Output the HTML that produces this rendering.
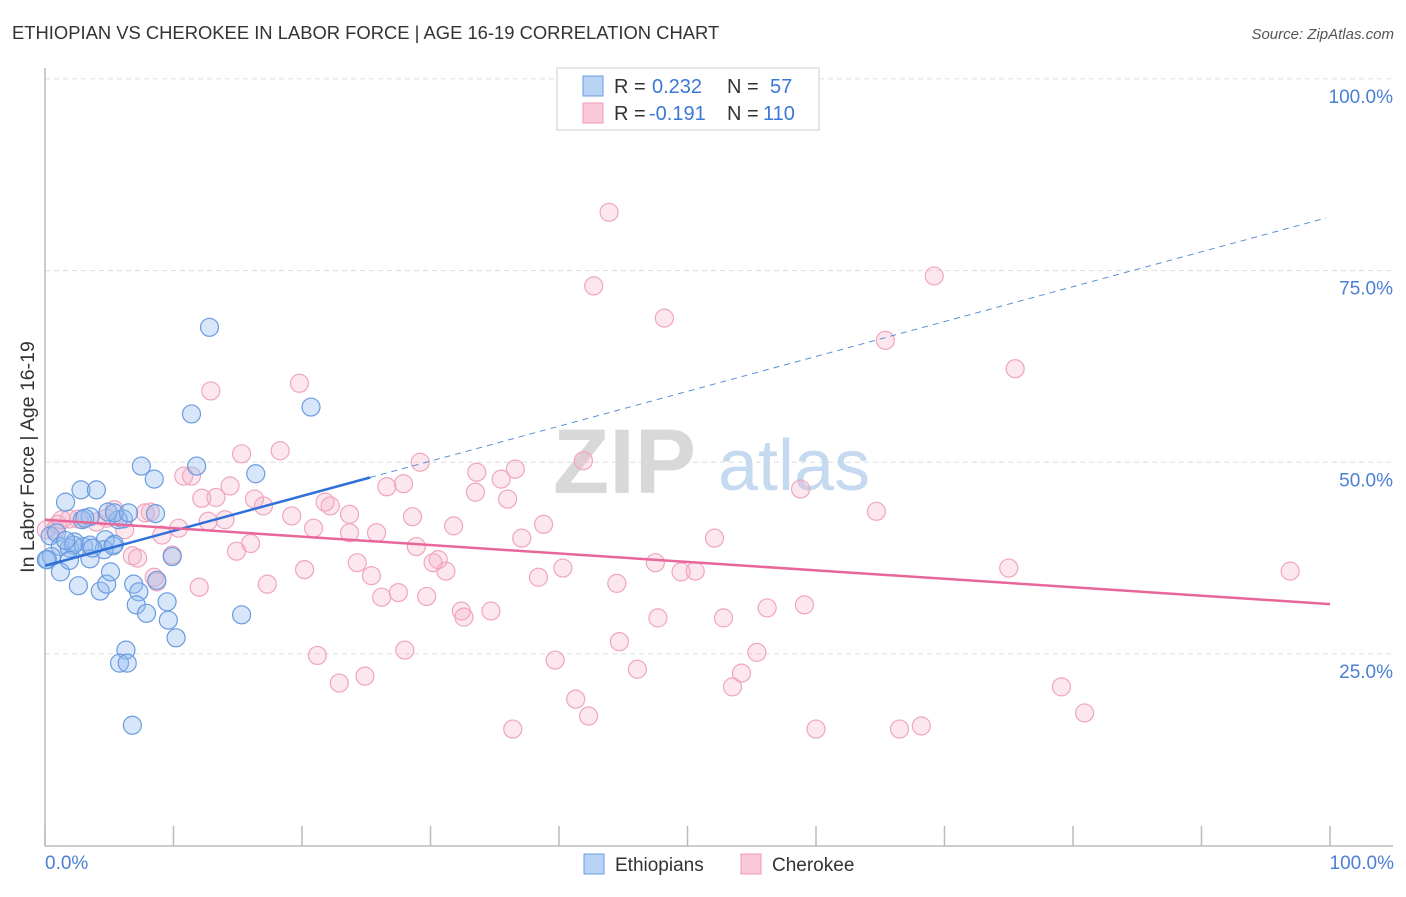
<!DOCTYPE html>
<html><head><meta charset="utf-8"><style>
body{margin:0;background:#fff;font-family:"Liberation Sans",sans-serif;}
svg text{font-family:"Liberation Sans",sans-serif;}
</style></head><body>
<svg id="chart" width="1406" height="892" viewBox="0 0 1406 892" xmlns="http://www.w3.org/2000/svg">
<text x="12" y="39" font-size="18.4" fill="#333">ETHIOPIAN VS CHEROKEE IN LABOR FORCE | AGE 16-19 CORRELATION CHART</text>
<text x="1394" y="39" font-size="15" fill="#555" text-anchor="end" font-style="italic">Source: ZipAtlas.com</text>
<g id="grid"></g>
<text x="553" y="493" font-size="92" font-family="Liberation Serif" fill="#d8d8d8" font-weight="bold">ZIP</text>
<text x="718" y="490" font-size="72" fill="#c5d9f0">atlas</text>
<line x1="45" y1="68" x2="45" y2="846" stroke="#bbb" stroke-width="1.5"/>
<line x1="45" y1="846" x2="1393" y2="846" stroke="#bbb" stroke-width="1.5"/>
<g id="ticks"></g>
<g id="ylabels"></g>
<text transform="translate(34,457) rotate(-90)" font-size="19.5" fill="#333" text-anchor="middle">In Labor Force | Age 16-19</text>
<text x="45" y="869" font-size="19" fill="#4a7fd4">0.0%</text>
<text x="1394" y="869" font-size="19" fill="#4a7fd4" text-anchor="end">100.0%</text>
<g id="pink"></g>
<g id="blue"></g>
<g id="lines"></g>
<g>
<rect x="557" y="68" width="262" height="62" fill="#fff" stroke="#ccc"/>
<rect x="583" y="76" width="20" height="20" fill="#b9d3f5" stroke="#6a9be0"/>
<rect x="583" y="103" width="20" height="20" fill="#f9c9d8" stroke="#ee9ab5"/>
<text font-size="20" fill="#333"><tspan x="614" y="93">R =</tspan><tspan x="652" y="93" fill="#3a78d8">0.232</tspan><tspan x="727" y="93">N =</tspan><tspan x="770" y="93" fill="#3a78d8">57</tspan></text>
<text font-size="20" fill="#333"><tspan x="614" y="120">R =</tspan><tspan x="649" y="120" fill="#3a78d8">-0.191</tspan><tspan x="727" y="120">N =</tspan><tspan x="763" y="120" fill="#3a78d8">110</tspan></text>
</g>
<g>
<rect x="584" y="854" width="20" height="20" fill="#b9d3f5" stroke="#6a9be0"/>
<text x="615" y="871" font-size="19" fill="#333">Ethiopians</text>
<rect x="741" y="854" width="20" height="20" fill="#f9c9d8" stroke="#ee9ab5"/>
<text x="772" y="871" font-size="19" fill="#333">Cherokee</text>
</g>
</svg>
<script>
const yTicks=[25,50,75,100];
const yTickLabels=["25.0%","50.0%","75.0%","100.0%"];
const xTicks=[0,10,20,30,40,50,60,70,80,90,100];
const blueX=[12.8,11.4,20.7,7.5,11.8,16.4,8.5,2.8,4.0,1.6,0.4,0.9,1.2,1.9,2.3,3.0,3.5,4.7,5.4,6.1,5.7,4.9,3.5,2.9,2.2,1.2,0.2,0.5,1.9,3.5,4.6,2.6,4.3,4.8,5.1,6.9,7.3,8.7,7.1,9.5,7.9,9.6,10.2,15.3,9.9,6.3,5.8,6.4,6.8,8.6,5.4,6.5,3.1,3.7,1.6,0.1,5.3];
const blueY=[67.6,56.3,57.2,49.5,49.5,48.5,47.8,46.4,46.4,44.8,40.4,40.8,39.0,38.8,39.6,39.0,39.2,39.9,39.3,42.6,42.5,43.5,42.9,42.5,39.2,35.7,37.3,37.7,37.2,37.4,38.6,33.9,33.2,34.1,35.7,34.1,33.1,34.6,31.4,31.8,30.3,29.4,27.1,30.1,37.7,25.5,23.8,23.8,15.7,43.3,43.4,43.4,42.7,38.8,39.8,37.3,39.1];
const pinkX=[43.9,69.2,42.7,48.2,65.4,75.5,19.8,12.9,18.3,15.3,29.2,41.9,36.6,33.6,35.5,10.8,11.4,27.9,26.6,33.5,14.4,13.3,12.2,16.3,17.0,21.8,22.2,58.8,36.0,64.7,23.7,28.6,31.8,38.8,19.2,20.9,23.7,25.8,37.1,52.1,28.9,16.0,14.9,12.7,14.0,10.4,9.1,8.2,7.8,6.2,4.8,4.0,2.6,1.9,1.0,0.8,1.3,6.8,7.2,9.9,24.3,25.4,30.6,31.2,30.2,40.3,47.5,49.5,50.6,75.0,96.9,20.2,38.4,17.3,8.5,8.7,12.0,44.5,26.2,27.5,29.7,32.4,32.6,34.7,47.7,52.8,56.2,59.1,44.7,55.4,21.2,28.0,39.7,46.1,54.2,24.9,22.9,53.5,79.1,41.3,42.3,80.9,36.4,60.0,66.5,68.2,0.1,5.4];
const pinkY=[82.6,74.3,73.0,68.8,65.9,62.2,60.3,59.3,51.5,51.1,50.0,50.2,49.1,48.7,47.8,48.2,48.2,47.2,46.8,46.1,46.9,45.4,45.3,45.2,44.3,44.8,44.3,46.5,45.2,43.6,43.2,42.9,41.7,41.9,43.0,41.4,40.8,40.8,40.1,40.1,39.0,39.4,38.4,42.3,42.5,41.4,40.5,43.5,43.4,41.2,42.7,42.2,42.6,42.6,41.9,41.2,42.5,37.8,37.5,37.9,36.9,35.2,37.3,35.8,36.9,36.2,36.9,35.7,35.8,36.2,35.8,36.0,35.0,34.1,35.0,34.4,33.7,34.2,32.4,33.0,32.5,30.6,29.8,30.6,29.7,29.7,31.0,31.4,26.6,25.2,24.8,25.5,24.2,23.0,22.5,22.1,21.2,20.7,20.7,19.1,16.9,17.3,15.2,15.2,15.2,15.6,41.2,43.8];
const blueTrend=[36.5,0.455]; // intercept, slope
const pinkTrend=[42.5,-0.11];
const NS="http://www.w3.org/2000/svg";
const X=v=>45+v*12.85, Y=v=>845.6-v*7.667;
function mk(t,a,p){const e=document.createElementNS(NS,t);for(const k in a)e.setAttribute(k,a[k]);p.appendChild(e);return e;}
const grid=document.getElementById('grid'),yl=document.getElementById('ylabels'),tk=document.getElementById('ticks');
yTicks.forEach((v,i)=>{
 const l=mk('line',{x1:45,x2:1393,y1:Y(v),y2:Y(v),stroke:'#ddd','stroke-dasharray':'5,4'},grid);
 
 
 const t=mk('text',{x:1393,y:Y(v)+24,'font-size':19,fill:'#4a7fd4','text-anchor':'end'},yl);
 t.textContent=yTickLabels[i];
 
 
});
xTicks.forEach(v=>{
 const l=mk('line',{x1:X(v),x2:X(v),y1:826,y2:846,stroke:'#bbb','stroke-width':1.5},tk);
 
 
});
const pg=document.getElementById('pink'),bg=document.getElementById('blue');
pinkX.forEach((x,i)=>{
 const c=mk('circle',{cx:X(x),cy:Y(pinkY[i]),r:9,fill:'rgba(245,175,198,0.3)',stroke:'#f0a5be','stroke-width':1.2},pg);
 
 
});
blueX.forEach((x,i)=>{
 const c=mk('circle',{cx:X(x),cy:Y(blueY[i]),r:9,fill:'rgba(150,190,240,0.38)',stroke:'#6a9be0','stroke-width':1.2},bg);
 
 
});
const lg=document.getElementById('lines');
const bf=x=>blueTrend[0]+blueTrend[1]*x, pf=x=>pinkTrend[0]+pinkTrend[1]*x;
let l1=mk('line',{x1:X(0),y1:Y(bf(0)),x2:X(25.3),y2:Y(bf(25.3)),stroke:'#2e6fd8','stroke-width':2.5},lg);


let l2=mk('line',{x1:X(25.3),y1:Y(bf(25.3)),x2:X(99.7),y2:Y(bf(99.7)),stroke:'#5b8fd8','stroke-width':1,'stroke-dasharray':'6,5'},lg);


let l3=mk('line',{x1:X(0),y1:Y(pf(0)),x2:X(100),y2:Y(pf(100)),stroke:'#e8679a','stroke-width':2.5},lg);


</script>
</body></html>
